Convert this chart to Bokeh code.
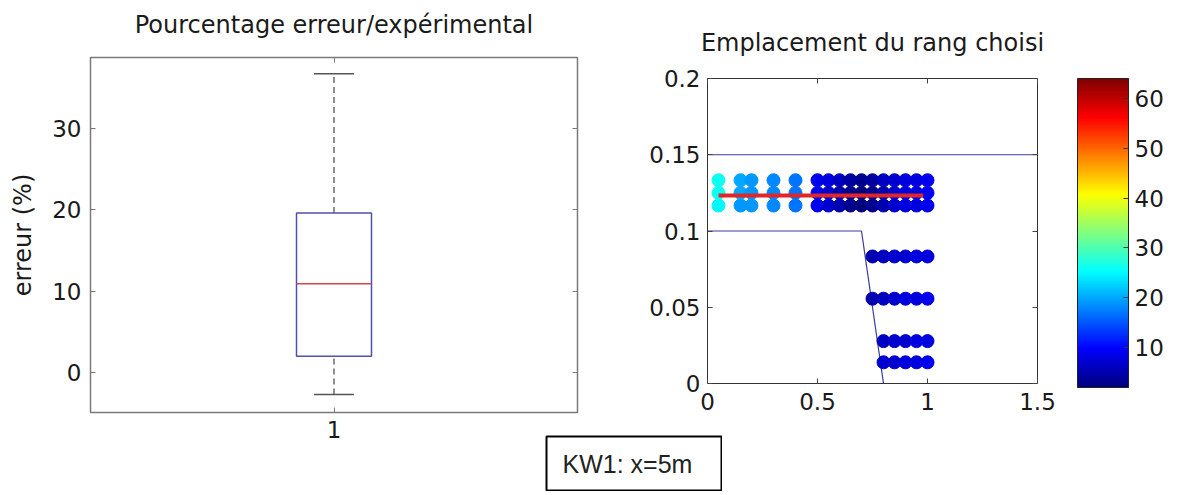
import numpy as np
from bokeh.plotting import figure
from bokeh.models import (LinearAxis, FixedTicker, ColorBar, LinearColorMapper,
                          Label, Range1d, ColumnDataSource)
from bokeh.layouts import row, column
from bokeh.embed import file_html
from bokeh.resources import INLINE

# ---------------- data ----------------
# left panel : box plot "Pourcentage erreur/expérimental"
box_positions = [1]
box_q1 = [2.0]
box_median = [10.9]
box_q3 = [19.6]
whisker_low = [-2.7]
whisker_high = [36.7]
left_yticks = [0, 10, 20, 30]
left_xticks = [1]

# right panel : "Emplacement du rang choisi"
row_a_y = 0.1333
row_a_x = [0.05, 0.15, 0.20, 0.30, 0.40, 0.50, 0.55, 0.60, 0.65, 0.70, 0.75, 0.80, 0.85, 0.90, 0.95, 1.00]
row_a_val = [26, 20, 19, 18, 17, 9, 8, 6, 4, 3, 4, 6, 7, 8, 8, 9]
row_m_y = 0.1250
row_m_x = [0.05, 0.15, 0.20, 0.30, 0.40, 0.50, 0.55, 0.60, 0.65, 0.70, 0.75, 0.80, 0.85, 0.90, 0.95, 1.00]
row_m_val = [26, 20, 19, 18, 17, 9, 7, 5, 3, 2, 3, 5, 7, 8, 8, 9]
row_b_y = 0.1167
row_b_x = [0.05, 0.15, 0.20, 0.30, 0.40, 0.50, 0.55, 0.60, 0.65, 0.70, 0.75, 0.80, 0.85, 0.90, 0.95, 1.00]
row_b_val = [25, 19, 19, 18, 17, 9, 7, 5, 3, 2, 3, 5, 7, 8, 8, 9]
row_c_y = 0.0833
row_c_x = [0.75, 0.80, 0.85, 0.90, 0.95, 1.00]
row_c_val = [5, 6, 7, 7, 8, 8]
row_d_y = 0.0556
row_d_x = [0.75, 0.80, 0.85, 0.90, 0.95, 1.00]
row_d_val = [5, 6, 7, 8, 8, 9]
row_e_y = 0.0278
row_e_x = [0.80, 0.85, 0.90, 0.95, 1.00]
row_e_val = [6, 7, 7, 8, 8]
row_f_y = 0.0139
row_f_x = [0.80, 0.85, 0.90, 0.95, 1.00]
row_f_val = [7, 7, 8, 8, 9]

red_x = [0.05, 0.98]
red_y = [0.1233, 0.1233]
upper_limit_x = [0, 1.5]
upper_limit_y = [0.15, 0.15]
lower_limit_x = [0, 0.7, 0.8]
lower_limit_y = [0.1, 0.1, 0.0]

right_xticks = [0, 0.5, 1, 1.5]
right_yticks = [0, 0.05, 0.1, 0.15, 0.2]
cbar_low, cbar_high = 2, 64
cbar_ticks = [10, 20, 30, 40, 50, 60]

left_title = "Pourcentage erreur/expérimental"
right_title = "Emplacement du rang choisi"
note_text = "KW1: x=5m"

# ---------------- style ----------------
FONT = "DejaVu Sans"
TXT = "#1a1a1a"


def jet(n=256):
    cols = []
    for i in range(n):
        f = i / (n - 1)
        r = min(max(min(4 * f - 1.5, -4 * f + 4.5), 0), 1)
        g = min(max(min(4 * f - 0.5, -4 * f + 3.5), 0), 1)
        b = min(max(min(4 * f + 0.5, -4 * f + 2.5), 0), 1)
        cols.append("#%02x%02x%02x" % (int(r * 255), int(g * 255), int(b * 255)))
    return cols


def style_axis(ax, color, size="23px"):
    ax.major_label_text_font = FONT
    ax.major_label_text_font_size = size
    ax.major_label_text_color = TXT
    ax.major_tick_in = 5
    ax.major_tick_out = 0
    ax.minor_tick_in = 0
    ax.minor_tick_out = 0
    ax.major_tick_line_color = color
    ax.axis_line_color = None


def mirror_axis(ticks, color, label=None, label_standoff=0):
    ax = LinearAxis(ticker=FixedTicker(ticks=ticks))
    style_axis(ax, color, size="1px")
    ax.major_label_text_color = None
    ax.major_label_standoff = 0
    if label is not None:
        # the panel title is carried by the top (mirror) axis
        ax.axis_label = label
        ax.axis_label_text_font = FONT
        ax.axis_label_text_font_size = "24px"
        ax.axis_label_text_font_style = "normal"
        ax.axis_label_text_color = TXT
        ax.axis_label_standoff = label_standoff
    return ax


# ---------------- left figure ----------------
pl = figure(frame_width=487, frame_height=355, title=None,
            x_range=Range1d(0.5, 1.5), y_range=Range1d(-4.9, 38.7),
            min_border_left=90, min_border_right=12, min_border_top=57, min_border_bottom=80,
            output_backend="svg", toolbar_location=None,
            margin=(0, -49, 0, 0))
pl.grid.visible = False
pl.outline_line_color = "#7a7a7a"
pl.outline_line_width = 1.5

pl.xaxis.ticker = FixedTicker(ticks=left_xticks)
pl.yaxis.ticker = FixedTicker(ticks=left_yticks)
for ax in pl.xaxis + pl.yaxis:
    style_axis(ax, "#7a7a7a")
pl.xaxis.major_label_standoff = 8
pl.yaxis.major_label_standoff = 9
pl.yaxis.axis_label = "erreur (%)"
pl.yaxis.axis_label_text_font = FONT
pl.yaxis.axis_label_text_font_size = "24px"
pl.yaxis.axis_label_text_font_style = "normal"
pl.yaxis.axis_label_text_color = TXT
pl.yaxis.axis_label_standoff = 12
pl.add_layout(mirror_axis(left_yticks, "#7a7a7a"), "right")
pl.add_layout(mirror_axis(left_xticks, "#7a7a7a", left_title, 19), "above")

bw, cw = 0.077, 0.041
box_src = ColumnDataSource(dict(
    x=box_positions, q1=box_q1, med=box_median, q3=box_q3, lo=whisker_low, hi=whisker_high,
    left=[p - bw for p in box_positions], right=[p + bw for p in box_positions],
    cl=[p - cw for p in box_positions], cr=[p + cw for p in box_positions]))
pl.segment(x0="x", x1="x", y0="q3", y1="hi", source=box_src, line_color="#6a6a6a",
           line_width=1.5, line_dash="6 4")
pl.segment(x0="x", x1="x", y0="lo", y1="q1", source=box_src, line_color="#6a6a6a",
           line_width=1.5, line_dash="6 4")
pl.segment(x0="cl", x1="cr", y0="hi", y1="hi", source=box_src, line_color="#555555", line_width=1.5)
pl.segment(x0="cl", x1="cr", y0="lo", y1="lo", source=box_src, line_color="#555555", line_width=1.5)
pl.quad(left="left", right="right", bottom="q1", top="q3", source=box_src,
        fill_color=None, line_color="#5050a8", line_width=1.5)
pl.segment(x0="left", x1="right", y0="med", y1="med", source=box_src,
           line_color="#d04848", line_width=1.5)

# ---------------- right figure ----------------
pr = figure(frame_width=330, frame_height=305, title=None,
            x_range=Range1d(0, 1.5), y_range=Range1d(0, 0.2),
            min_border_left=167, min_border_right=134, min_border_top=57, min_border_bottom=80,
            output_backend="svg", toolbar_location=None,
            border_fill_color=None, margin=(21, 0, 0, 0))
pr.grid.visible = False
pr.outline_line_color = "#333333"
pr.outline_line_width = 1

pr.xaxis.ticker = FixedTicker(ticks=right_xticks)
pr.yaxis.ticker = FixedTicker(ticks=right_yticks)
pr.xaxis.major_label_overrides = {0: "0", 0.5: "0.5", 1: "1", 1.5: "1.5"}
pr.yaxis.major_label_overrides = {0: "0", 0.05: "0.05", 0.1: "0.1", 0.15: "0.15", 0.2: "0.2"}
for ax in pr.xaxis + pr.yaxis:
    style_axis(ax, "#444444")
pr.xaxis.major_label_standoff = 9
pr.yaxis.major_label_standoff = 7
pr.add_layout(mirror_axis(right_yticks, "#444444"), "right")
pr.add_layout(mirror_axis(right_xticks, "#444444", right_title, 22), "above")

mapper = LinearColorMapper(palette=jet(), low=cbar_low, high=cbar_high)

pr.line(upper_limit_x, upper_limit_y, line_color="#3a3aa0", line_width=1.2)
pr.line(lower_limit_x, lower_limit_y, line_color="#3a3aa0", line_width=1.2)

for ys, xs, vals in [(row_a_y, row_a_x, row_a_val), (row_b_y, row_b_x, row_b_val),
                     (row_m_y, row_m_x, row_m_val),
                     (row_c_y, row_c_x, row_c_val), (row_d_y, row_d_x, row_d_val),
                     (row_e_y, row_e_x, row_e_val), (row_f_y, row_f_x, row_f_val)]:
    src = ColumnDataSource(dict(x=xs, y=[ys] * len(xs), v=vals))
    pr.scatter("x", "y", source=src, size=13,
               fill_color={"field": "v", "transform": mapper},
               line_color={"field": "v", "transform": mapper})

pr.line(red_x, red_y, line_color="#e02626", line_width=4)

cb = ColorBar(color_mapper=mapper, ticker=FixedTicker(ticks=cbar_ticks),
              width=51, height=309, padding=0, margin=0, location=(40, -4),
              major_label_text_font=FONT, major_label_text_font_size="23px",
              major_label_text_color=TXT, label_standoff=6,
              major_tick_in=5, major_tick_out=0, major_tick_line_color="#333333",
              minor_tick_line_color=None, bar_line_color="#222222",
              border_line_color=None, background_fill_color=None)
pr.add_layout(cb, "right")

# ---------------- note box "KW1" ----------------
pn = figure(frame_width=175, frame_height=54, x_range=Range1d(0, 175), y_range=Range1d(0, 54),
            min_border=1, output_backend="svg", toolbar_location=None,
            x_axis_type=None, y_axis_type=None, margin=(-57, 0, 0, 545))
pn.grid.visible = False
pn.outline_line_color = "black"
pn.outline_line_width = 2
pn.add_layout(Label(x=16, y=27, text=note_text, text_font="Liberation Sans",
                    text_font_size="25px", text_color="#222222",
                    text_align="left", text_baseline="middle"))

layout = column(row(pl, pr), pn)
open("out.html", "w").write(file_html(layout, INLINE))
